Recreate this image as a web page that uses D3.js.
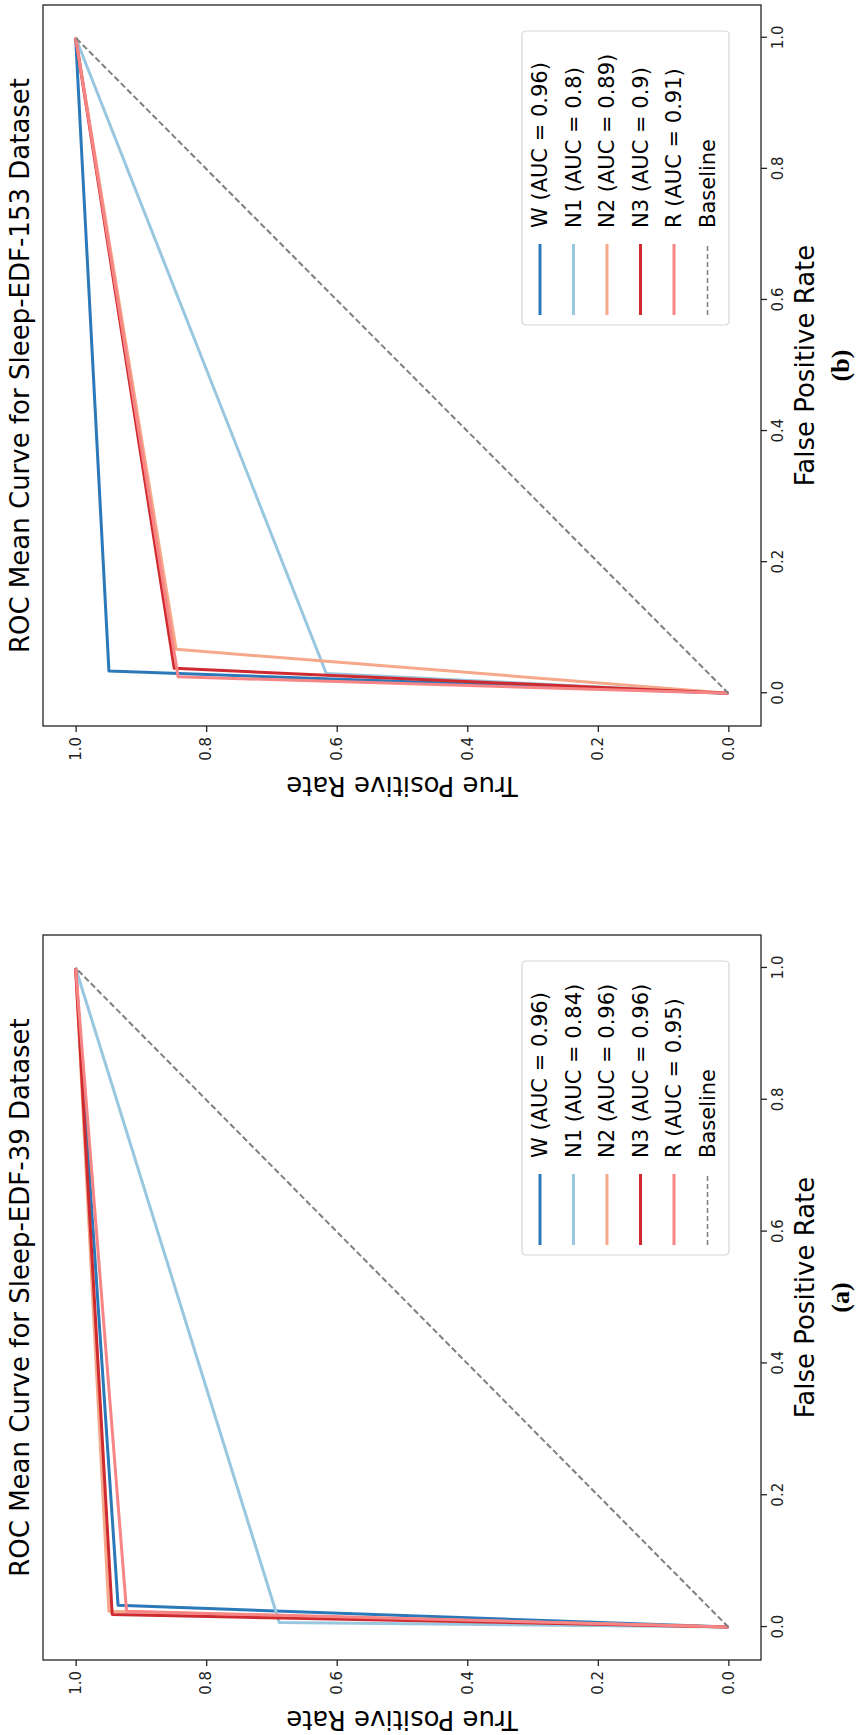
<!DOCTYPE html>
<html>
<head>
<meta charset="utf-8">
<script src="https://cdn.jsdelivr.net/npm/d3@7/dist/d3.min.js"></script>
<style>
  body { margin: 0; background: #fff; }
  svg { display: block; }
</style>
</head>
<body>
<div id="chart"></div>
<script>
// sleep stage classes and legend AUC values
const classNames = ["W", "N1", "N2", "N3", "R"];
const aucEdf39 = [0.96, 0.84, 0.96, 0.96, 0.95];
const aucEdf153 = [0.96, 0.8, 0.89, 0.9, 0.91];

// mean ROC points (fpr / tpr), one row per class
const fprEdf39 = [[0, 0.033, 1], [0, 0.007, 1], [0, 0.024, 1], [0, 0.019, 1], [0, 0.024, 1]];
const tprEdf39 = [[0, 0.935, 1], [0, 0.688, 1], [0, 0.949, 1], [0, 0.944, 1], [0, 0.922, 1]];
const fprEdf153 = [[0, 0.034, 1], [0, 0.030, 1], [0, 0.067, 1], [0, 0.038, 1], [0, 0.025, 1]];
const tprEdf153 = [[0, 0.949, 1], [0, 0.616, 1], [0, 0.846, 1], [0, 0.849, 1], [0, 0.843, 1]];
const baselineFpr = [0, 1];
const baselineTpr = [0, 1];

const tickValues = [0, 0.2, 0.4, 0.6, 0.8, 1.0];
const datasetNames = ["Sleep-EDF-153", "Sleep-EDF-39"];
const panelTags = ["(b)", "(a)"];

// styles
const classColors = ["#2b79b8", "#98c7df", "#f6a88a", "#cf2a2f", "#f88585"];
const fontMain = "'DejaVu Sans', sans-serif";

const svg = d3.select("#chart")
    .append("svg")
    .attr("width", 859)
    .attr("height", 1735);

// the figure is turned a quarter turn: x axis (FPR) runs upwards, y axis (TPR) to the left
function drawPanel(frame, fprs, tprs, aucs, name, tag) {
    const Wp = frame.y1 - frame.y0;
    const Hp = frame.x1 - frame.x0;

    const g = svg.append("g")
        .attr("transform", `translate(${frame.x0},${frame.y1}) rotate(-90)`);

    const x = d3.scaleLinear().domain([-0.05, 1.05]).range([0, Wp]);
    const y = d3.scaleLinear().domain([-0.05, 1.05]).range([Hp, 0]);

    const line = d3.line().x(d => x(d[0])).y(d => y(d[1]));

    const series = classNames.map((c, i) => ({
        name: c,
        color: classColors[i],
        label: `${c} (AUC = ${aucs[i]})`,
        pts: fprs[i].map((f, j) => [f, tprs[i][j]])
    }));

    g.selectAll(".roc")
        .data(series)
        .enter().append("path")
        .attr("class", "roc")
        .attr("d", d => line(d.pts))
        .attr("fill", "none")
        .attr("stroke", d => d.color)
        .attr("stroke-width", 3)
        .attr("stroke-linejoin", "round");

    g.append("path")
        .attr("d", line(baselineFpr.map((f, j) => [f, baselineTpr[j]])))
        .attr("fill", "none")
        .attr("stroke", "#7f7f7f")
        .attr("stroke-width", 2)
        .attr("stroke-dasharray", "6,3");

    // frame
    g.append("rect")
        .attr("width", Wp)
        .attr("height", Hp)
        .attr("fill", "none")
        .attr("stroke", "#222")
        .attr("stroke-width", 1.3);

    const fmt = d3.format(".1f");
    const xAxis = g.append("g")
        .attr("transform", `translate(0,${Hp})`)
        .call(d3.axisBottom(x).tickValues(tickValues).tickFormat(fmt).tickSize(6).tickPadding(5));
    const yAxis = g.append("g")
        .call(d3.axisLeft(y).tickValues(tickValues).tickFormat(fmt).tickSize(6).tickPadding(5));
    [xAxis, yAxis].forEach(a => {
        a.select(".domain").remove();
        a.selectAll(".tick line").attr("stroke", "#222").attr("stroke-width", 1.3);
        a.selectAll(".tick text")
            .attr("fill", "#222")
            .style("font-family", fontMain)
            .style("font-size", "15px");
    });

    // title and axis labels
    g.append("text")
        .attr("x", Wp / 2)
        .attr("y", -14)
        .attr("text-anchor", "middle")
        .style("font-family", fontMain)
        .style("font-size", "26px")
        .text(`ROC Mean Curve for ${name} Dataset`);

    g.append("text")
        .attr("x", Wp / 2)
        .attr("y", Hp + 53)
        .attr("text-anchor", "middle")
        .style("font-family", fontMain)
        .style("font-size", "26px")
        .text("False Positive Rate");

    g.append("text")
        .attr("transform", `translate(-51,${Hp / 2}) rotate(-90)`)
        .attr("text-anchor", "middle")
        .style("font-family", fontMain)
        .style("font-size", "26px")
        .text("True Positive Rate");

    g.append("text")
        .attr("x", Wp / 2)
        .attr("y", Hp + 88)
        .attr("text-anchor", "middle")
        .style("font-family", "'Liberation Serif', 'Times New Roman', serif")
        .style("font-weight", "bold")
        .style("font-size", "26px")
        .text(tag);

    // legend (lower right in the unturned frame)
    const legW = 294, legH = 207;
    const legend = g.append("g")
        .attr("transform", `translate(${Wp - 26 - legW},${Hp - 32 - legH})`);
    legend.append("rect")
        .attr("width", legW)
        .attr("height", legH)
        .attr("rx", 4)
        .attr("fill", "#fff")
        .attr("fill-opacity", 0.8)
        .attr("stroke", "#d5d5d5")
        .attr("stroke-width", 1.2);

    const items = series.map(s => ({ label: s.label, color: s.color, dash: null }))
        .concat([{ label: "Baseline", color: "#7f7f7f", dash: "5,3" }]);

    const rows = legend.selectAll(".leg")
        .data(items)
        .enter().append("g")
        .attr("class", "leg")
        .attr("transform", (d, i) => `translate(0,${18 + i * 33.5})`);
    rows.append("line")
        .attr("x1", 10)
        .attr("x2", 81)
        .attr("stroke", d => d.color)
        .attr("stroke-width", d => d.dash ? 1.5 : 3)
        .attr("stroke-dasharray", d => d.dash);
    rows.append("text")
        .attr("x", 97)
        .attr("dy", "0.35em")
        .style("font-family", fontMain)
        .style("font-size", "21px")
        .text(d => d.label);
}

drawPanel({ x0: 43, x1: 761, y0: 5, y1: 726 }, fprEdf153, tprEdf153, aucEdf153, datasetNames[0], panelTags[0]);
drawPanel({ x0: 43, x1: 761, y0: 935, y1: 1660 }, fprEdf39, tprEdf39, aucEdf39, datasetNames[1], panelTags[1]);
</script>
</body>
</html>
